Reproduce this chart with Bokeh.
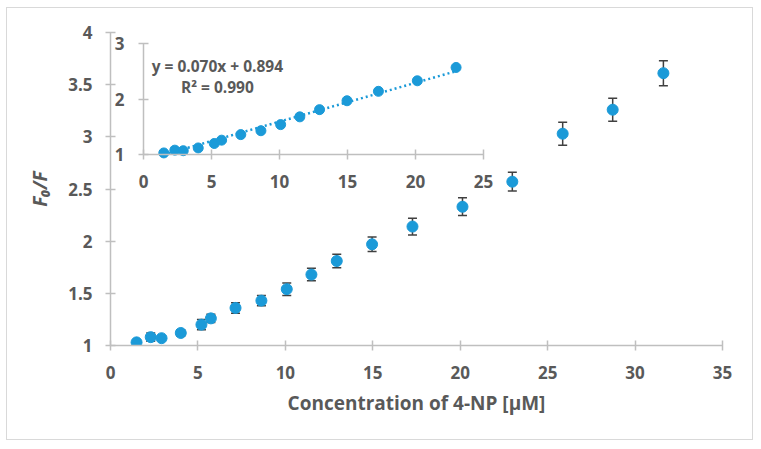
from bokeh.plotting import figure
from bokeh.models import (Range1d, LinearAxis, FixedTicker, ColumnDataSource,
                          Whisker, TeeHead, Label)
from bokeh.embed import file_html
from bokeh.resources import INLINE

# ---- data ----
conc = [1.49, 2.30, 2.92, 4.02, 5.20, 5.74, 7.15, 8.63, 10.08, 11.49, 12.94,
        14.96, 17.27, 20.13, 22.98, 25.86, 28.72, 31.62]
ratio = [1.03, 1.08, 1.07, 1.12, 1.20, 1.26, 1.36, 1.43, 1.54, 1.68, 1.81,
         1.97, 2.14, 2.33, 2.57, 3.03, 3.26, 3.61]
err = [0.01, 0.04, 0.02, 0.03, 0.05, 0.04, 0.05, 0.05, 0.06, 0.06, 0.065,
       0.07, 0.08, 0.085, 0.09, 0.11, 0.11, 0.12]
n_inset = 15
slope = 0.070
intercept = 0.894
x_ticks = [0, 5, 10, 15, 20, 25, 30, 35]
y_ticks = [1, 1.5, 2, 2.5, 3, 3.5, 4]
inset_x_ticks = [0, 5, 10, 15, 20, 25]
inset_y_ticks = [1, 2, 3]

BLUE = "#1b9ad8"
GREY = "#595959"
AXC = "#bfbfbf"
FONT = "Open Sans"

p = figure(width=747, height=433, x_range=Range1d(0, 35), y_range=Range1d(1, 4),
           output_backend="svg", toolbar_location=None,
           min_border_left=103, min_border_right=32, min_border_top=24,
           min_border_bottom=96)
p.margin = (7, 0, 0, 6)
p.grid.visible = False
p.outline_line_color = None
p.styles = {"border": "1px solid #d9d9d9", "box-sizing": "border-box"}


def style_axis(ax, standoff):
    ax.axis_line_color = AXC
    ax.axis_line_width = 1.5
    ax.major_tick_line_color = AXC
    ax.major_tick_line_width = 1.5
    ax.major_tick_in = 5
    ax.major_tick_out = 5
    ax.minor_tick_line_color = None
    ax.major_label_text_font = FONT
    ax.major_label_text_font_style = "bold"
    ax.major_label_text_font_size = "17px"
    ax.major_label_text_color = GREY
    ax.major_label_standoff = standoff


style_axis(p.xaxis[0], 15)
style_axis(p.yaxis[0], 13)
p.xaxis.ticker = FixedTicker(ticks=x_ticks)
p.yaxis.ticker = FixedTicker(ticks=y_ticks)
p.xaxis.axis_label = "Concentration of 4-NP [μM]"
p.xaxis.axis_label_text_font = FONT
p.xaxis.axis_label_text_color = GREY
p.xaxis.axis_label_text_font_size = "19px"
p.xaxis.axis_label_text_font_style = "bold"
p.xaxis.axis_label_standoff = 8
p.yaxis.axis_label = "F₀/F"
p.yaxis.axis_label_text_font = FONT
p.yaxis.axis_label_text_color = GREY
p.yaxis.axis_label_text_font_size = "19px"
p.yaxis.axis_label_text_font_style = "bold italic"
p.yaxis.axis_label_standoff = 12

# ---- inset coordinate system ----
p.extra_x_ranges = {"ix": Range1d(-2.43, 42.57)}
p.extra_y_ranges = {"iy": Range1d(-2.44, 3.2)}

ix_axis = LinearAxis(x_range_name="ix", y_range_name="iy", fixed_location=1,
                     bounds=(0, 25), ticker=FixedTicker(ticks=inset_x_ticks))
iy_axis = LinearAxis(x_range_name="ix", y_range_name="iy", fixed_location=0,
                     bounds=(1, 3), ticker=FixedTicker(ticks=inset_y_ticks))
style_axis(ix_axis, 15)
style_axis(iy_axis, 14)
p.add_layout(ix_axis, "below")
p.add_layout(iy_axis, "left")

# ---- main data ----
src = ColumnDataSource(dict(
    x=conc, y=ratio,
    lo=[r - e for r, e in zip(ratio, err)],
    hi=[r + e for r, e in zip(ratio, err)]))
wh = Whisker(source=src, base="x", lower="lo", upper="hi",
             line_color="#404040", line_width=1.5,
             upper_head=TeeHead(size=9, line_color="#404040", line_width=1.5),
             lower_head=TeeHead(size=9, line_color="#404040", line_width=1.5))
p.add_layout(wh)
p.scatter("x", "y", source=src, size=11, fill_color=BLUE, line_color=BLUE)

# ---- inset data ----
isrc = ColumnDataSource(dict(x=conc[:n_inset], y=ratio[:n_inset]))
fx = [conc[0], conc[n_inset - 1]]
fy = [slope * v + intercept for v in fx]
p.line(fx, fy, x_range_name="ix", y_range_name="iy", line_color=BLUE,
       line_width=2.5, line_dash="2 3")
p.scatter("x", "y", source=isrc, x_range_name="ix", y_range_name="iy",
          size=10, fill_color=BLUE, line_color=BLUE)

eq = Label(x=0.6, y=2.59, x_range_name="ix", y_range_name="iy",
           text=f"y = {slope:.3f}x + {intercept:.3f}", text_font=FONT,
           text_font_style="bold", text_font_size="15.5px", text_color=GREY,
           text_baseline="middle")
r2 = Label(x=2.75, y=2.22, x_range_name="ix", y_range_name="iy",
           text="R² = 0.990", text_font=FONT,
           text_font_style="bold", text_font_size="15.5px", text_color=GREY,
           text_baseline="middle")
p.add_layout(eq)
p.add_layout(r2)

open("out.html", "w").write(file_html(p, INLINE))
